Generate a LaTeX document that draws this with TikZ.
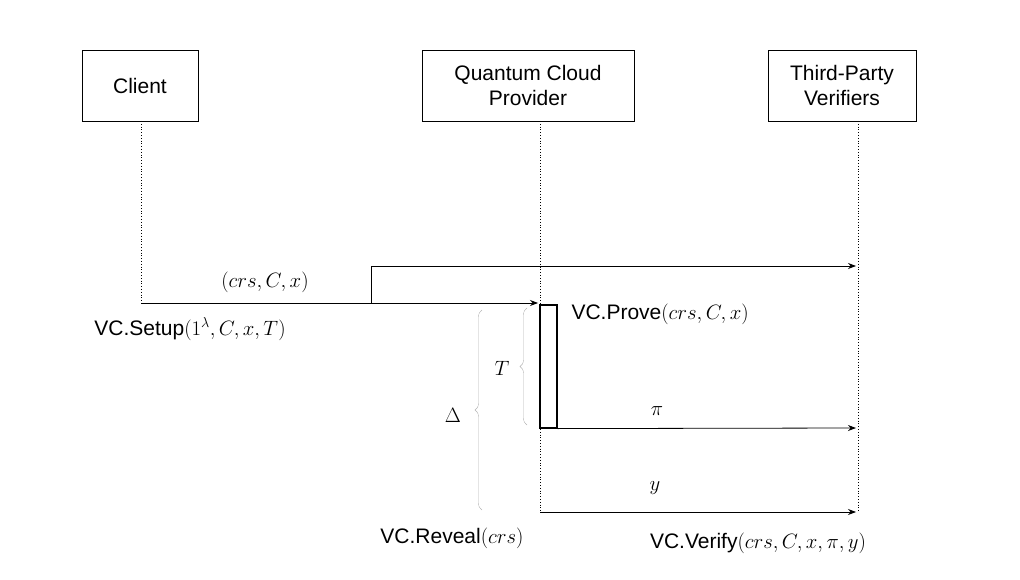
\documentclass[tikz,border=0pt]{standalone}
\usepackage{fontspec}
\setmainfont{Liberation Sans}
\usetikzlibrary{decorations.pathreplacing,arrows.meta}
\begin{document}
\begin{tikzpicture}[x=1pt,y=-1pt,
  actor/.style={draw,thick,minimum height=71pt,align=center,font=\fontsize{21}{25}\selectfont},
  lbl/.style={font=\fontsize{21}{25}\selectfont},
  life/.style={dotted,thick},
  msg/.style={thick,-{Stealth[length=8pt]}},
  br/.style={gray!60,decorate,decoration={brace,amplitude=7pt}}]
\useasboundingbox (0,0) rectangle (1020,580);
\node[actor,minimum width=116pt] (cl) at (140,85.5) {Client};
\node[actor,minimum width=212pt] (qp) at (528,85.5) {Quantum Cloud\\Provider};
\node[actor,minimum width=148pt] (tp) at (842,85.5) {Third-Party\\Verifiers};
\coordinate (clb) at (141,515); \coordinate (qpb) at (540,515); \coordinate (tpb) at (858,515);
\draw[life] (141,121) -- (141,303);
\draw[life] (540,121) -- (540,512);
\draw[life] (858,121) -- (858,512);
\coordinate (s) at (141,303); \coordinate (b) at (371,303); \coordinate (bt) at (371,266);
\draw[msg] (s) -- (538,303);
\draw[msg] (b) -- (bt) -- (856,266);
\node[lbl] at (265,282) {$(crs,C,x)$};
\node[lbl] at (190,329) {VC.Setup$(1^\lambda,C,x,T)$};
\node[draw,very thick,minimum width=17pt,minimum height=123pt,inner sep=0pt] (act) at (548.5,366.5) {};
\node[lbl,anchor=west] at (568,314) {VC.Prove$(crs,C,x)$};
\draw[msg] (act.south east) -- (856,428);
\node[lbl] at (657,411) {$\pi$};
\draw[msg] (540,512) -- (856,512);
\node[lbl] at (655,488) {$y$};
\node[lbl] at (452,538) {VC.Reveal$(crs)$};
\node[lbl] at (758,543) {VC.Verify$(crs,C,x,\pi,y)$};
\draw[br] (527,425) -- (527,308);
\node[lbl] at (502,368) {$T$};
\draw[br] (482,510) -- (482,310);
\node[lbl] at (453,415) {$\Delta$};
\end{tikzpicture}
\end{document}
